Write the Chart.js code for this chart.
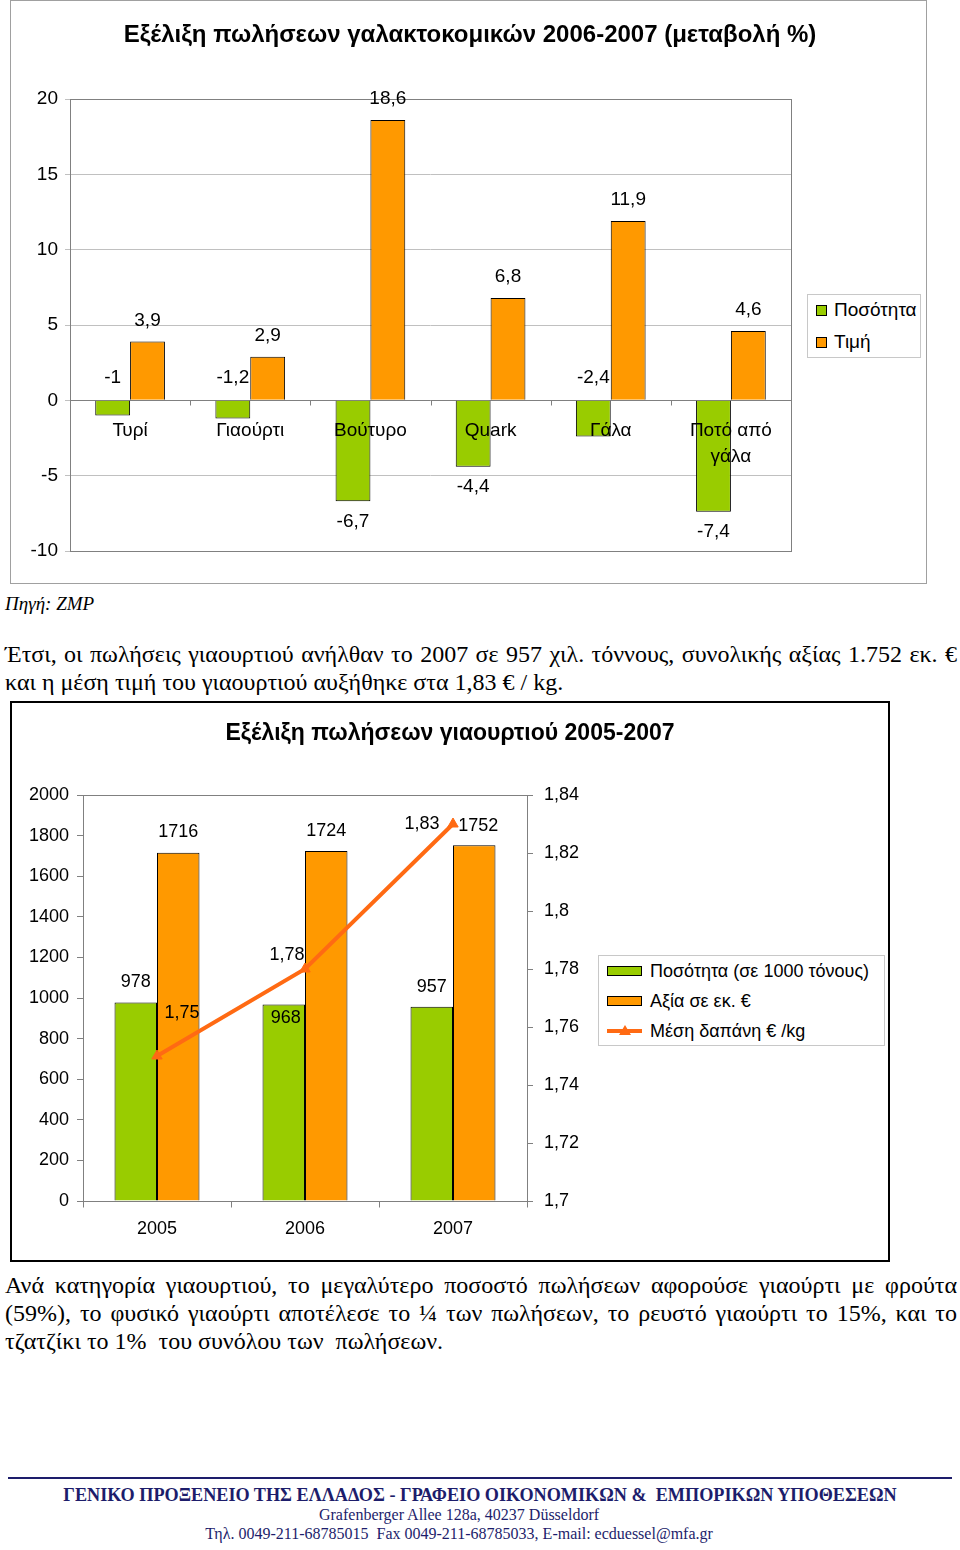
<!DOCTYPE html>
<html lang="el">
<head>
<meta charset="utf-8">
<title>Εξέλιξη πωλήσεων γαλακτοκομικών και γιαουρτιού</title>
<script src="https://cdn.jsdelivr.net/npm/chart.js@4.4.1/dist/chart.umd.min.js"></script>
<style>
  body { margin: 0; background: #fff; }
  #page { position: relative; width: 960px; height: 1550px; overflow: hidden; font-family: "Liberation Sans", Arial, sans-serif; color: #000; }
  .abs { position: absolute; }
  .serif { font-family: "Liberation Serif", "Times New Roman", serif; }
  .jl { width: 952px; text-align: justify; text-align-last: justify; white-space: nowrap; }
  .legend { position: absolute; border: 1px solid #c8c8c8; background: #fff; box-sizing: border-box; }
  .legend .row { position: absolute; left: 0; display: flex; align-items: center; white-space: nowrap; }
  .sw { display: inline-block; border: 1px solid #000; box-sizing: border-box; }
</style>
</head>
<body>
<div id="page">
  <!-- chart 1 -->
  <div class="abs" style="left:10px;top:0;width:917px;height:584px;border:1px solid #a0a0a0;box-sizing:border-box;"></div>
  <div class="abs" style="left:10px;top:0;width:920px;height:590px;"><canvas id="dairyChart"></canvas></div>
  <div class="legend" style="left:807px;top:294px;width:114px;height:64px;font-size:19px;">
    <div class="row" style="left:8px;top:3px;height:24px;"><span class="sw" style="width:11px;height:11px;background:#99CC00;margin-right:7px;"></span>Ποσότητα</div>
    <div class="row" style="left:8px;top:35px;height:24px;"><span class="sw" style="width:11px;height:11px;background:#FF9900;margin-right:7px;"></span>Τιμή</div>
  </div>

  <div class="abs serif" style="left:5px;top:592px;font-size:19px;line-height:24px;font-style:italic;">Πηγή: ZMP</div>

  <div class="abs serif" style="left:5px;top:640px;font-size:24px;line-height:28px;">
    <div class="jl">Έτσι, οι πωλήσεις γιαουρτιού ανήλθαν το 2007 σε 957 χιλ. τόννους, συνολικής αξίας 1.752 εκ. €</div>
    <div>και η μέση τιμή του γιαουρτιού αυξήθηκε στα 1,83 € / kg.</div>
  </div>

  <!-- chart 2 -->
  <div class="abs" style="left:10px;top:701px;width:880px;height:561px;border:2px solid #000;box-sizing:border-box;"></div>
  <div class="abs" style="left:10px;top:701px;width:880px;height:560px;"><canvas id="yogurtChart"></canvas></div>
  <div class="legend" style="left:598px;top:955px;width:287px;height:91px;font-size:18px;">
    <div class="row" style="left:8px;top:3px;height:24px;"><span class="sw" style="width:35px;height:10px;background:#99CC00;margin-right:8px;"></span>Ποσότητα (σε 1000 τόνους)</div>
    <div class="row" style="left:8px;top:33px;height:24px;"><span class="sw" style="width:35px;height:10px;background:#FF9900;margin-right:8px;"></span>Αξία σε εκ. €</div>
    <div class="row" style="left:8px;top:63px;height:24px;">
      <span style="position:relative;display:inline-block;width:35px;height:10px;margin-right:8px;">
        <span style="position:absolute;left:0;top:3px;width:35px;height:4px;background:#FF6A13;"></span>
        <span style="position:absolute;left:12px;top:-1px;width:0;height:0;border-left:6px solid transparent;border-right:6px solid transparent;border-bottom:10px solid #FF6A13;"></span>
      </span>Μέση δαπάνη € /kg</div>
  </div>

  <div class="abs serif" style="left:5px;top:1271px;font-size:24px;line-height:28px;">
    <div class="jl">Ανά κατηγορία γιαουρτιού, το μεγαλύτερο ποσοστό πωλήσεων αφορούσε γιαούρτι με φρούτα</div>
    <div class="jl">(59%), το φυσικό γιαούρτι αποτέλεσε το ¼ των πωλήσεων, το ρευστό γιαούρτι το 15%, και το</div>
    <div>τζατζίκι το 1%&nbsp; του συνόλου των&nbsp; πωλήσεων.</div>
  </div>

  <!-- footer -->
  <div class="abs" style="left:8px;top:1477px;width:944px;height:2px;background:#1d1d6b;"></div>
  <div class="abs serif" style="left:0;top:1484px;width:960px;text-align:center;color:#1d1d6b;">
    <div style="font-size:18.2px;line-height:22px;font-weight:bold;">ΓΕΝΙΚΟ ΠΡΟΞΕΝΕΙΟ ΤΗΣ ΕΛΛΑΔΟΣ - ΓΡΑΦΕΙΟ ΟΙΚΟΝΟΜΙΚΩΝ &amp;&nbsp; ΕΜΠΟΡΙΚΩΝ ΥΠΟΘΕΣΕΩΝ</div>
    <div style="font-size:16px;line-height:19px;margin-top:-1px;margin-right:42px;">Grafenberger Allee 128a, 40237 Düsseldorf</div>
    <div style="font-size:16px;line-height:19px;margin-right:42px;">Τηλ. 0049-211-68785015&nbsp; Fax 0049-211-68785033, E-mail: ecduessel@mfa.gr</div>
  </div>
</div>

<script>
// chart 1 data (% change 2006-2007)
const dairyCategories = ['Τυρί', 'Γιαούρτι', 'Βούτυρο', 'Quark', 'Γάλα', ['Ποτό από', 'γάλα']];
const dairyQuantity = [-1, -1.2, -6.7, -4.4, -2.4, -7.4];
const dairyPrice = [3.9, 2.9, 18.6, 6.8, 11.9, 4.6];

// chart 2 data (yogurt 2005-2007)
const yogurtYears = ['2005', '2006', '2007'];
const yogurtQuantity = [978, 968, 957];
const yogurtValue = [1716, 1724, 1752];
const yogurtAvgPrice = [1.75, 1.78, 1.83];

const GREEN = '#99CC00';
const ORANGE = '#FF9900';
const LINE = '#FF6A13';
const FRAME = '#808080';

Chart.defaults.font.family = '"Liberation Sans", Arial, sans-serif';
Chart.defaults.color = '#000';

function fmt(v) {
    return String(Math.round(v * 100) / 100).replace('.', ',');
}

document.addEventListener('DOMContentLoaded', function() {
    // ---- chart 1 ----
    const dairyPlugin = {
        id: 'dairyFrame',
        beforeDatasetsDraw(chart) {
            const ctx = chart.ctx, a = chart.chartArea;
            const x = chart.scales.x, y = chart.scales.y;
            ctx.save();
            ctx.strokeStyle = FRAME;
            ctx.lineWidth = 1;
            ctx.strokeRect(Math.round(a.left) + 0.5, Math.round(a.top) + 0.5, Math.round(a.width), Math.round(a.height));
            const y0 = Math.round(y.getPixelForValue(0)) + 0.5;
            const w = x.getPixelForValue(1) - x.getPixelForValue(0);
            ctx.beginPath();
            ctx.moveTo(a.left, y0);
            ctx.lineTo(a.right, y0);
            for (let i = 0; i <= dairyCategories.length; i++) {
                const px = Math.round(x.getPixelForValue(i) - w / 2) + 0.5;
                ctx.moveTo(px, y0);
                ctx.lineTo(px, y0 + 5);
            }
            ctx.stroke();
            ctx.restore();
        },
        afterDatasetsDraw(chart) {
            const ctx = chart.ctx;
            const x = chart.scales.x, y = chart.scales.y;
            const y0 = y.getPixelForValue(0);
            ctx.save();
            ctx.fillStyle = '#000';
            ctx.font = '19px "Liberation Sans", Arial, sans-serif';
            ctx.textAlign = 'center';
            ctx.textBaseline = 'middle';
            // category names sit just under the zero line
            dairyCategories.forEach(function(label, i) {
                const lines = Array.isArray(label) ? label : [label];
                lines.forEach(function(t, k) {
                    ctx.fillText(t, x.getPixelForValue(i), y0 + 30 + k * 26);
                });
            });
            // value labels
            chart.data.datasets.forEach(function(ds, di) {
                chart.getDatasetMeta(di).data.forEach(function(bar, i) {
                    const v = ds.data[i];
                    let ty;
                    if (v >= 0) ty = bar.y - 21;
                    else if (v > -3) ty = y0 - 23;
                    else ty = bar.y + 20;
                    ctx.fillText(fmt(v), bar.x, ty);
                });
            });
            ctx.restore();
        }
    };

    new Chart(document.getElementById('dairyChart'), {
        type: 'bar',
        data: {
            labels: dairyCategories,
            datasets: [{
                label: 'Ποσότητα',
                data: dairyQuantity,
                backgroundColor: GREEN,
                borderColor: '#000',
                borderWidth: 1
            }, {
                label: 'Τιμή',
                data: dairyPrice,
                backgroundColor: ORANGE,
                borderColor: '#000',
                borderWidth: 1
            }]
        },
        options: {
            responsive: true,
            maintainAspectRatio: false,
            animation: false,
            layout: { padding: { left: 0, right: 0, top: 0, bottom: 39 } },
            datasets: { bar: { categoryPercentage: 0.58, barPercentage: 1 } },
            plugins: {
                legend: { display: false },
                tooltip: { enabled: false },
                title: {
                    display: true,
                    text: 'Εξέλιξη πωλήσεων γαλακτοκομικών 2006-2007 (μεταβολή %)',
                    font: { size: 24, weight: 'bold' },
                    color: '#000',
                    padding: { top: 20.6, bottom: 49.6 }
                }
            },
            scales: {
                x: { display: false },
                y: {
                    min: -10,
                    max: 20,
                    ticks: { stepSize: 5, font: { size: 19 }, color: '#000', padding: 7 },
                    grid: { color: '#C0C0C0', tickLength: 5 },
                    border: { display: false },
                    afterFit: function(s) { s.width = 60; }
                },
                // empty right-hand strip that keeps room for the legend
                side: {
                    type: 'linear',
                    position: 'right',
                    ticks: { display: false },
                    grid: { display: false, drawTicks: false },
                    border: { display: false },
                    afterFit: function(s) { s.width = 139; }
                }
            }
        },
        plugins: [dairyPlugin]
    });

    // ---- chart 2 ----
    const barLabelOffsets = [[[0, -20], [2, 14], [0, -20]], [[0, -21], [0, -20], [4, -19]]];
    const lineLabelOffsets = [[25, -43], [-18, -14], [-31, 0]];

    const yogurtPlugin = {
        id: 'yogurtFrame',
        beforeDatasetsDraw(chart) {
            const ctx = chart.ctx, a = chart.chartArea;
            const x = chart.scales.x;
            ctx.save();
            ctx.strokeStyle = FRAME;
            ctx.lineWidth = 1;
            ctx.strokeRect(Math.round(a.left) + 0.5, Math.round(a.top) + 0.5, Math.round(a.width), Math.round(a.height));
            const yb = Math.round(a.bottom) + 0.5;
            const w = x.getPixelForValue(1) - x.getPixelForValue(0);
            ctx.beginPath();
            for (let i = 0; i <= yogurtYears.length; i++) {
                const px = Math.round(x.getPixelForValue(i) - w / 2) + 0.5;
                ctx.moveTo(px, yb);
                ctx.lineTo(px, yb + 6);
            }
            ctx.stroke();
            ctx.restore();
        },
        afterDatasetsDraw(chart) {
            const ctx = chart.ctx;
            ctx.save();
            ctx.fillStyle = '#000';
            ctx.font = '18px "Liberation Sans", Arial, sans-serif';
            ctx.textAlign = 'center';
            ctx.textBaseline = 'middle';
            chart.data.datasets.forEach(function(ds, di) {
                const meta = chart.getDatasetMeta(di);
                meta.data.forEach(function(el, i) {
                    const off = ds.type === 'line' ? lineLabelOffsets[i] : barLabelOffsets[di - 1][i];
                    const text = ds.type === 'line' ? fmt(ds.data[i]) : String(ds.data[i]);
                    ctx.fillText(text, el.x + off[0], el.y + off[1]);
                });
            });
            ctx.restore();
        }
    };

    new Chart(document.getElementById('yogurtChart'), {
        type: 'bar',
        data: {
            labels: yogurtYears,
            datasets: [{
                type: 'line',
                label: 'Μέση δαπάνη € /kg',
                data: yogurtAvgPrice,
                yAxisID: 'y1',
                borderColor: LINE,
                backgroundColor: LINE,
                borderWidth: 4,
                pointStyle: 'triangle',
                pointRadius: 6,
                pointBorderWidth: 1,
                order: 0
            }, {
                label: 'Ποσότητα (σε 1000 τόνους)',
                data: yogurtQuantity,
                yAxisID: 'y',
                backgroundColor: GREEN,
                borderColor: '#000',
                borderWidth: 1,
                order: 1
            }, {
                label: 'Αξία σε εκ. €',
                data: yogurtValue,
                yAxisID: 'y',
                backgroundColor: ORANGE,
                borderColor: '#000',
                borderWidth: 1,
                order: 1
            }]
        },
        options: {
            responsive: true,
            maintainAspectRatio: false,
            animation: false,
            layout: { padding: { left: 0, right: 0, top: 0, bottom: 0 } },
            datasets: { bar: { categoryPercentage: 0.574, barPercentage: 1 } },
            plugins: {
                legend: { display: false },
                tooltip: { enabled: false },
                title: {
                    display: true,
                    text: 'Εξέλιξη πωλήσεων γιαουρτιού 2005-2007',
                    font: { size: 23, weight: 'bold' },
                    color: '#000',
                    padding: { top: 19.2, bottom: 47.2 }
                }
            },
            scales: {
                x: {
                    grid: { display: false, drawTicks: false },
                    border: { display: false },
                    ticks: { font: { size: 18 }, color: '#000', padding: 17 },
                    afterFit: function(s) { s.height = 60; }
                },
                y: {
                    position: 'left',
                    min: 0,
                    max: 2000,
                    ticks: {
                        stepSize: 200,
                        font: { size: 18 },
                        color: '#000',
                        padding: 8,
                        callback: function(v) { return String(v); }
                    },
                    grid: { drawOnChartArea: false, tickLength: 6, color: FRAME },
                    border: { display: false },
                    afterFit: function(s) { s.width = 73; }
                },
                y1: {
                    position: 'right',
                    min: 1.7,
                    max: 1.84,
                    ticks: {
                        stepSize: 0.02,
                        font: { size: 18 },
                        color: '#000',
                        padding: 11,
                        callback: function(v) { return fmt(v); }
                    },
                    grid: { drawOnChartArea: false, tickLength: 6, color: FRAME },
                    border: { display: false },
                    afterFit: function(s) { s.width = 363; }
                }
            }
        },
        plugins: [yogurtPlugin]
    });
});
</script>
</body>
</html>
